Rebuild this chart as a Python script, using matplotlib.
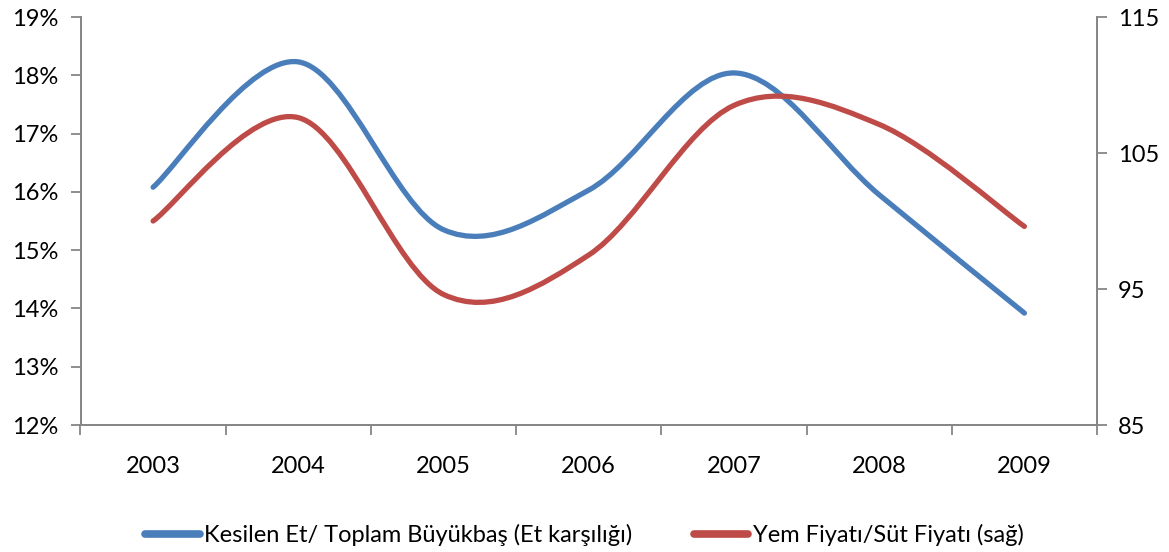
import numpy as np
import matplotlib
matplotlib.use("Agg")
import matplotlib.pyplot as plt
from matplotlib.path import Path
from matplotlib.patches import PathPatch
from matplotlib.lines import Line2D

plt.rcParams['font.family'] = ['Lato', 'DejaVu Sans']

years = ['2003', '2004', '2005', '2006', '2007', '2008', '2009']
kesilen = [16.08, 18.23, 15.35, 16.03, 18.04, 15.95, 13.92]   # % (sol eksen)
yem_sut = [100.0, 107.6, 94.6, 97.5, 108.5, 107.1, 99.6]       # sag eksen

blue = '#4A7EBB'
red = '#BE4B48'
gray = '#868686'
fs = 17


def smooth_path(x, y):
    # excel-like smoothed line: cubic bezier, catmull-rom control points
    x = np.asarray(x, float)
    y = np.asarray(y, float)
    px = np.concatenate([[x[0]], x, [x[-1]]])
    py = np.concatenate([[y[0]], y, [y[-1]]])
    verts = [(x[0], y[0])]
    codes = [Path.MOVETO]
    for i in range(1, len(x)):
        c1 = (px[i] + (px[i + 1] - px[i - 1]) / 6, py[i] + (py[i + 1] - py[i - 1]) / 6)
        c2 = (px[i + 1] - (px[i + 2] - px[i]) / 6, py[i + 1] - (py[i + 2] - py[i]) / 6)
        verts += [c1, c2, (px[i + 1], py[i + 1])]
        codes += [Path.CURVE4] * 3
    return Path(verts, codes)


fig = plt.figure(figsize=(11.69, 5.52), dpi=100)
ax = fig.add_axes([80.5 / 1169, 1 - 425 / 552, (1097 - 80.5) / 1169, (425 - 17) / 552])
ax2 = ax.twinx()

xs = np.arange(len(years))
ax.add_patch(PathPatch(smooth_path(xs, kesilen), fill=False, edgecolor=blue,
                       lw=3.8, capstyle='round', zorder=3))
ax2.add_patch(PathPatch(smooth_path(xs, yem_sut), fill=False, edgecolor=red,
                        lw=3.8, capstyle='round', zorder=3))

ax.set_xlim(-0.5, len(years) - 0.5)
ax.set_ylim(12, 19)
ax2.set_ylim(85, 115)

ax.set_yticks(np.arange(12, 20, 1))
ax.set_yticklabels([f'{v}%' for v in range(12, 20)])
ax2.set_yticks([85, 95, 105, 115])

ax.set_xticks(np.arange(-0.5, len(years), 1))
ax.set_xticklabels([])
ax.set_xticks(xs, minor=True)
ax.set_xticklabels(years, minor=True)
ax.tick_params(axis='x', which='minor', length=0, pad=22)
ax.tick_params(axis='x', which='major', length=7, color=gray, width=1.3)
ax.tick_params(axis='y', length=7, color=gray, width=1.3, pad=9)
ax2.tick_params(axis='y', length=7, color=gray, width=1.3, pad=8)

for a in (ax, ax2):
    a.spines['top'].set_visible(False)
    for s in ('left', 'right', 'bottom'):
        a.spines[s].set_color(gray)
        a.spines[s].set_linewidth(1.3)
    a.tick_params(labelsize=fs)
ax.tick_params(axis='x', which='minor', labelsize=fs)

handles = [Line2D([], [], color=blue, lw=5.5, solid_capstyle='round'),
           Line2D([], [], color=red, lw=5.5, solid_capstyle='round')]
labels = ['Kesilen Et/ Toplam Büyükbaş (Et karşılığı)', 'Yem Fiyatı/Süt Fiyatı (sağ)']
fig.legend(handles, labels, loc='center', bbox_to_anchor=(0.5, 1 - 535 / 552), ncol=2,
           frameon=False, fontsize=fs, handlelength=2.3, handletextpad=0.2,
           columnspacing=2.6)

fig.savefig('out.png', dpi=100)
